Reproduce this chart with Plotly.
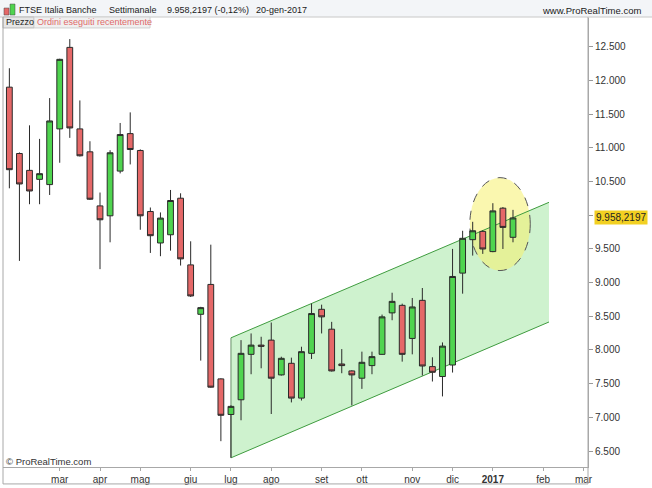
import pandas as pd
import plotly.graph_objects as go

# ---- data (weekly candles, FTSE Italia Banche) ----
start_week = "2016-02-01"
n_weeks = 51
opens = [11898, 10914, 10664, 10531, 10453, 11279, 12488, 11279, 10939, 10137,
         9990, 10653, 11209, 10959, 10054, 9587, 9709, 10251, 9262, 8529,
         8972, 7571, 7043, 7261, 7935, 8072, 8146, 7630, 7802, 7286,
         7950, 8603, 8308, 7792, 7689, 7581, 7768, 7935, 8550, 8662,
         8171, 8736, 7753, 7606, 7777, 9140, 9636, 9759, 9459, 10103, 9671]
highs = [12179, 10930, 11332, 11131, 11736, 12320, 12611, 11701, 11096, 10335,
         10963, 11367, 11524, 10975, 10113, 10040, 10373, 10324, 9612, 8640,
         9562, 7580, 7180, 8146, 8245, 8196, 8407, 7900, 7886, 8048,
         8687, 8672, 8417, 8013, 7700, 7975, 7975, 8525, 8849, 8687,
         8771, 8919, 7891, 8112, 9499, 9768, 9901, 9775, 10177, 10120, 10078]
lows = [10398, 9321, 10162, 10162, 10299, 10777, 11146, 10870, 10225, 9199,
        9597, 10619, 10752, 9783, 9439, 9391, 9473, 9252, 8786, 7842,
        7440, 6647, 6401, 6957, 7640, 7728, 7050, 7620, 7222, 7250,
        7866, 8245, 7680, 7655, 7178, 7423, 7640, 7930, 8441, 7827,
        7935, 7621, 7532, 7311, 7665, 8835, 9400, 9425, 9450, 9498, 9597]
closes = [10674, 10462, 10358, 10615, 11397, 12311, 11293, 10880, 10236, 9931,
          10925, 11195, 10973, 9990, 9695, 9956, 10217, 9351, 8801, 8628,
          7448, 7031, 7163, 7950, 8072, 8055, 7581, 7876, 7286, 7975,
          8540, 8491, 7689, 7768, 7630, 7817, 7901, 8491, 8721, 7935,
          8638, 7762, 7669, 8057, 9090, 9656, 9768, 9498, 10063, 9818, 9958.2197]

last_price = 9958.2197
last_label = "9.958,2197"

# month tick marks (first weekly bar of each month)
month_ticks = ["2016-03-07", "2016-04-04", "2016-05-02", "2016-06-06", "2016-07-04",
               "2016-08-01", "2016-09-05", "2016-10-03", "2016-11-07", "2016-12-05",
               "2017-01-02", "2017-02-06", "2017-03-06"]
month_labels = ["mar", "apr", "mag", "giu", "lug", "ago", "set", "ott", "nov", "dic",
                "<b>2017</b>", "feb", "mar"]

price_ticks = [6500, 7000, 7500, 8000, 8500, 9000, 9500, 10000, 10500, 11000, 11500, 12000, 12500]
price_labels = ["6.500", "7.000", "7.500", "8.000", "8.500", "9.000", "9.500", "10.000",
                "10.500", "11.000", "11.500", "12.000", "12.500"]

# trend channel drawn on the chart
channel_x = ["2016-07-04", "2017-02-10"]
channel_upper = [8180, 10190]
channel_lower = [6400, 8415]

# highlight ellipse
ellipse_x = ["2016-12-17", "2017-01-28"]
ellipse_y = [9178, 10556]

x_range = ["2016-01-27 14:00", "2017-03-09 03:00"]
y_range = [6264, 12924]

dates = pd.date_range(start_week, periods=n_weeks, freq="7D")

# ---- layout helpers (pixel -> paper) ----
W, H = 652, 488
L, R, T, B = 3, 588, 18, 469


def px(x):
    return (x - L) / (R - L)


def py(y):
    return (B - y) / (B - T)


FONT = "Liberation Sans, Arial"

fig = go.Figure()
fig.add_trace(go.Candlestick(
    x=dates, open=opens, high=highs, low=lows, close=closes,
    increasing=dict(fillcolor="#4fd44f", line=dict(color="#2a2a2a", width=1)),
    decreasing=dict(fillcolor="#e56868", line=dict(color="#2a2a2a", width=1)),
    whiskerwidth=0, hoverinfo="skip", showlegend=False,
))

shapes = []
# channel fill
shapes.append(dict(type="path", xref="x", yref="y", layer="below",
                   path=(f"M {channel_x[0]},{channel_lower[0]} L {channel_x[0]},{channel_upper[0]} "
                         f"L {channel_x[1]},{channel_upper[1]} L {channel_x[1]},{channel_lower[1]} Z"),
                   fillcolor="rgba(120,220,120,0.36)", line=dict(width=0)))
# highlight ellipse
shapes.append(dict(type="circle", xref="x", yref="y", layer="below",
                   x0=ellipse_x[0], x1=ellipse_x[1], y0=ellipse_y[0], y1=ellipse_y[1],
                   fillcolor="rgba(245,240,110,0.55)", line=dict(color="#555555", width=1, dash="dash")))
# channel lines
shapes.append(dict(type="line", xref="x", yref="y", layer="below",
                   x0=channel_x[0], x1=channel_x[1], y0=channel_upper[0], y1=channel_upper[1],
                   line=dict(color="#3f9c3f", width=1)))
shapes.append(dict(type="line", xref="x", yref="y", layer="below",
                   x0=channel_x[0], x1=channel_x[1], y0=channel_lower[0], y1=channel_lower[1],
                   line=dict(color="#3f9c3f", width=1)))
shapes.append(dict(type="line", xref="x", yref="y", layer="below",
                   x0=channel_x[0], x1=channel_x[0], y0=channel_lower[0], y1=channel_upper[0],
                   line=dict(color="#6a8f6a", width=1)))

# header background
shapes.append(dict(type="rect", xref="paper", yref="paper", x0=px(0), x1=px(W), y0=py(17), y1=py(0),
                   fillcolor="#f3f5f8", line=dict(width=0), layer="below"))
shapes.append(dict(type="line", xref="paper", yref="paper", x0=px(0), x1=px(W), y0=py(17), y1=py(17),
                   line=dict(color="#c8c8c8", width=1)))
# header icon
shapes.append(dict(type="rect", xref="paper", yref="paper", x0=px(4), x1=px(9), y0=py(15), y1=py(8),
                   fillcolor="#e56868", line=dict(color="#444", width=0.5)))
shapes.append(dict(type="rect", xref="paper", yref="paper", x0=px(10), x1=px(15), y0=py(15), y1=py(4),
                   fillcolor="#4fd44f", line=dict(color="#444", width=0.5)))
# Prezzo boxes
shapes.append(dict(type="rect", xref="paper", yref="paper", x0=px(3), x1=px(34), y0=py(28), y1=py(17),
                   fillcolor="#e6e6e6", line=dict(color="#b8b8b8", width=1)))
shapes.append(dict(type="rect", xref="paper", yref="paper", x0=px(34), x1=px(150), y0=py(28), y1=py(17),
                   fillcolor="#f0f0f0", line=dict(color="#d0d0d0", width=1)))
# frame lines
shapes.append(dict(type="line", xref="paper", yref="paper", x0=0, x1=0, y0=py(486), y1=py(17),
                   line=dict(color="#a8a8a8", width=1)))
shapes.append(dict(type="line", xref="paper", yref="paper", x0=0, x1=1, y0=py(486), y1=py(486),
                   line=dict(color="#a8a8a8", width=1)))
shapes.append(dict(type="line", xref="paper", yref="paper", x0=1, x1=1, y0=py(486), y1=py(17),
                   line=dict(color="#a8a8a8", width=1)))

annotations = []
hdr = dict(xref="paper", yref="paper", showarrow=False, xanchor="left", yanchor="middle",
           font=dict(family=FONT, size=9, color="#1a1a1a"))
for txt, x0 in [("FTSE Italia Banche", 17), ("Settimanale", 107),
                ("9.958,2197 (-0,12%)", 165), ("20-gen-2017", 254)]:
    annotations.append(dict(hdr, text=txt, x=px(x0), y=py(10)))
annotations.append(dict(hdr, text="www.ProRealTime.com", x=px(643), y=py(10), xanchor="right",
                        font=dict(family=FONT, size=9.5, color="#1a1a1a")))
annotations.append(dict(hdr, text="Prezzo", x=px(4), y=py(22.5),
                        font=dict(family=FONT, size=9, color="#222")))
annotations.append(dict(hdr, text="Ordini eseguiti recentemente", x=px(35), y=py(22.5),
                        font=dict(family=FONT, size=9, color="#e06a6a")))
annotations.append(dict(hdr, text="© ProRealTime.com", x=px(4), y=py(463),
                        font=dict(family=FONT, size=9.5, color="#333")))
# last price marker (drawn over the 10.000 label, as in the original)
annotations.append(dict(xref="paper", yref="y", x=px(594), y=last_price, text=last_label,
                        showarrow=False, xanchor="left", yanchor="middle",
                        bgcolor="#f2d022", borderpad=1,
                        font=dict(family=FONT, size=10, color="#222")))

fig.update_layout(
    width=W, height=H,
    margin=dict(l=L, r=W - R, t=T, b=H - B, pad=0),
    paper_bgcolor="white", plot_bgcolor="white",
    boxgap=0.18,
    shapes=shapes, annotations=annotations,
    xaxis=dict(type="date", range=x_range, rangeslider=dict(visible=False),
               tickvals=month_ticks, ticktext=month_labels,
               showgrid=False, zeroline=False, showline=True, linecolor="#a8a8a8",
               ticks="outside", ticklen=3, tickcolor="#a8a8a8",
               tickfont=dict(family=FONT, size=10, color="#333")),
    yaxis=dict(range=y_range, side="right", tickvals=price_ticks, ticktext=price_labels,
               showgrid=False, zeroline=False, showline=True, linecolor="#a8a8a8",
               ticks="outside", ticklen=4, tickcolor="#999",
               tickfont=dict(family=FONT, size=10, color="#333")),
    hovermode=False,
)

fig.write_html("out.html", config={"displayModeBar": False},
               post_script="document.body.style.margin='0';")
